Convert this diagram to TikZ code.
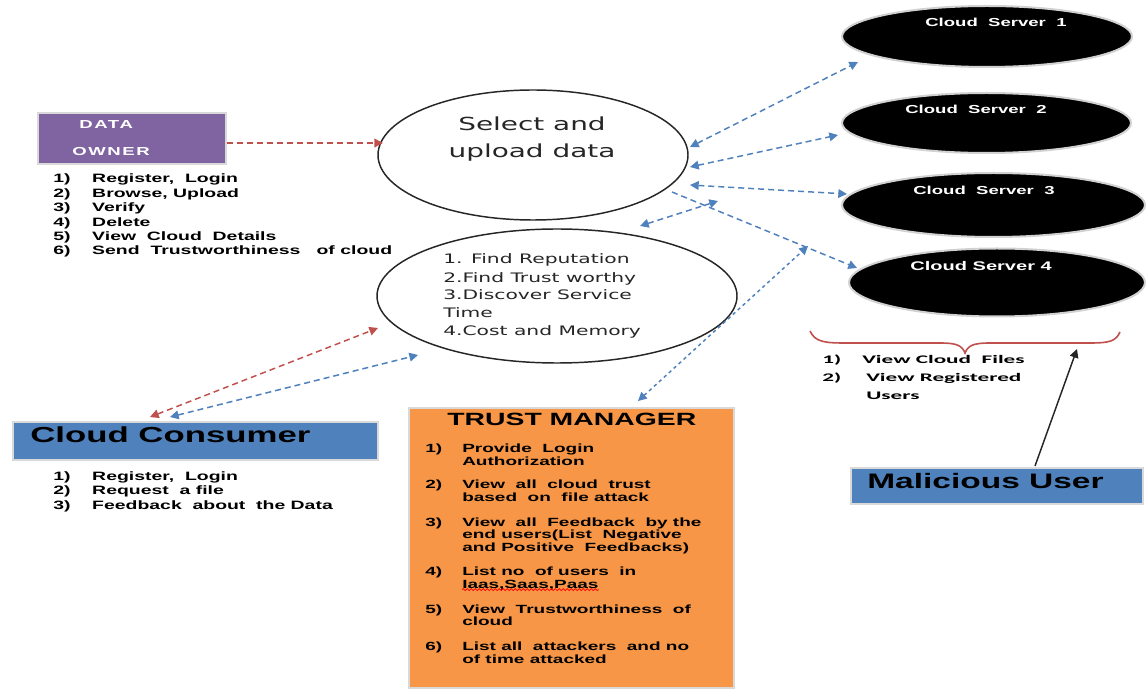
\documentclass[tikz,border=0pt]{standalone}
\usepackage{fontspec}
\setmainfont{Liberation Sans}
\newfontfamily\arb[FakeStretch=1.6]{Liberation Sans}
\newfontfamily\arbls[FakeStretch=1.6,LetterSpace=14]{Liberation Sans}
\newfontfamily\dvs[FakeStretch=1.55]{DejaVu Sans}
\newfontfamily\carl[FakeStretch=2.0]{Carlito}
\usetikzlibrary{arrows.meta,shapes.geometric,decorations.pathmorphing}
\definecolor{ownerc}{RGB}{128,100,162}
\definecolor{cblue}{RGB}{79,129,189}
\definecolor{corange}{RGB}{247,150,70}
\definecolor{cred}{RGB}{192,80,77}
\newcommand\itm[3]{\makebox[#1][l]{#2}#3}
\begin{document}
\begin{tikzpicture}[x=0.75pt,y=-0.75pt,
  >={Triangle[length=6.5pt,width=6.5pt]},
  box/.style={draw=black!15, line width=1.3pt, inner sep=0, anchor=north west},
  server/.style={ellipse, fill=black, draw=black!18, line width=1.5pt, inner sep=0},
  bigell/.style={ellipse, draw=black!85, line width=1.1pt, inner sep=0},
  lst/.style={anchor=base west, inner sep=0, font=\arb\bfseries\fontsize{9.1pt}{10pt}\selectfont},
  tml/.style={anchor=base west, inner sep=0, font=\arb\bfseries\fontsize{8.9pt}{10pt}\selectfont},
  srvtxt/.style={anchor=base west, inner sep=0, text=white, font=\arb\bfseries\fontsize{8.7pt}{10pt}\selectfont},
  ttl/.style={anchor=base west, inner sep=0, font=\arb\bfseries},
  e2txt/.style={anchor=base west, inner sep=0, text=black!85, font=\dvs\fontsize{9.8pt}{11pt}\selectfont},
  mal/.style={anchor=base west, inner sep=0, font=\carl\bfseries\fontsize{8.7pt}{10pt}\selectfont},
  bl/.style={draw=cblue, line width=1.1pt, dash pattern=on 4.5pt off 3pt},
  bldot/.style={draw=cblue, line width=1.1pt, dash pattern=on 2.5pt off 2.5pt},
  rd/.style={draw=cred, line width=1.1pt, dash pattern=on 4.5pt off 3pt}
]
\useasboundingbox (0,0) rectangle (1146,691);
\fill[white] (0,0) rectangle (1146,691);

% boxes
\node[box, fill=ownerc, minimum width=141pt, minimum height=38.25pt] (owner) at (37,112) {};
\node[box, fill=cblue, minimum width=273.75pt, minimum height=28.5pt] (consumer) at (12,421) {};
\node[box, fill=cblue, minimum width=219pt, minimum height=27pt] (malicious) at (850,467) {};
\node[box, fill=corange, minimum width=244pt, minimum height=210pt] (trust) at (408,407) {};

% ellipses
\node[bigell, minimum width=232.5pt, minimum height=97.5pt] (sel) at (533,155) {};
\node[bigell, minimum width=270pt, minimum height=100.5pt] (find) at (557,296) {};
\node[server, minimum width=217.5pt, minimum height=45.75pt] (s1) at (987,36.5) {};
\node[server, minimum width=216.75pt, minimum height=45pt] (s2) at (986.5,123) {};
\node[server, minimum width=227.25pt, minimum height=48pt] (s3) at (993.5,205) {};
\node[server, minimum width=222pt, minimum height=51pt] (s4) at (997,282.5) {};

% titles
\node[anchor=base west, inner sep=0, text=white, font=\arbls\bfseries\fontsize{8.7pt}{10pt}\selectfont] (dataT) at (79,128.3) {DATA};
\node[anchor=base west, inner sep=0, text=white, font=\arbls\bfseries\fontsize{8.7pt}{10pt}\selectfont] (ownerT) at (72,156) {OWNER};
\node[ttl, font=\arb\bfseries\fontsize{16.3pt}{18pt}\selectfont] (consT) at (30,442) {Cloud Consumer};
\node[ttl, font=\arb\bfseries\fontsize{15.7pt}{18pt}\selectfont] (malT) at (867,488.3) {Malicious User};
\node[ttl, font=\arb\bfseries\fontsize{13.3pt}{15pt}\selectfont] (trustT) at (447,426) {TRUST MANAGER};

% ellipse texts
\node[anchor=base, inner sep=0, text=black!85, font=\dvs\fontsize{13.5pt}{15pt}\selectfont] (selA) at (532,130.7) {Select and};
\node[anchor=base, inner sep=0, text=black!85, font=\dvs\fontsize{13.5pt}{15pt}\selectfont] (selB) at (532,157.3) {upload data};
\node[e2txt] (f1) at (443,263.3) {1. Find Reputation};
\node[e2txt] (f2) at (443,282.7) {2.Find Trust worthy};
\node[e2txt] (f3) at (443,300) {3.Discover Service};
\node[e2txt] (f3b) at (443,317.3) {Time};
\node[e2txt] (f4) at (443,335.7) {4.Cost and Memory};

% server labels
\node[srvtxt] (s1T) at (925,26.7) {Cloud\ \ Server\ \ 1};
\node[srvtxt] (s2T) at (905,113.3) {Cloud\ \ Server\ \ 2};
\node[srvtxt] (s3T) at (913,194.3) {Cloud\ \ Server\ \ 3};
\node[srvtxt, font=\arb\bfseries\fontsize{9.4pt}{10pt}\selectfont] (s4T) at (910,270.7) {Cloud Server 4};

% owner list
\node[lst] (o1) at (53,183) {\itm{29.25pt}{1)}{Register,\ \ Login}};
\node[lst] (o2) at (53,197.4) {\itm{29.25pt}{2)}{Browse, Upload}};
\node[lst] (o3) at (53,211.8) {\itm{29.25pt}{3)}{Verify}};
\node[lst] (o4) at (53,226.2) {\itm{29.25pt}{4)}{Delete}};
\node[lst] (o5) at (53,240.6) {\itm{29.25pt}{5)}{View\ \ Cloud\ \ Details}};
\node[lst] (o6) at (53,255) {\itm{29.25pt}{6)}{Send\ \ Trustworthiness\ \ \ of cloud}};

% consumer list
\node[lst] (c1) at (53,480) {\itm{29.25pt}{1)}{Register,\ \ Login}};
\node[lst] (c2) at (53,494.5) {\itm{29.25pt}{2)}{Request\ \ a file}};
\node[lst] (c3) at (53,509) {\itm{29.25pt}{3)}{Feedback\ \ about\ \ the Data}};

% trust manager list
\node[tml] (t1) at (425,452.7) {\itm{27.75pt}{1)}{Provide\ \ Login}};
\node[tml] (t1b) at (462,465) {Authorization};
\node[tml] (t2) at (425,488.7) {\itm{27.75pt}{2)}{View\ \ all\ \ cloud\ \ trust}};
\node[tml] (t2b) at (462,501.7) {based\ \ on\ \ file attack};
\node[tml] (t3) at (425,526) {\itm{27.75pt}{3)}{View\ \ all\ \ Feedback\ \ by the}};
\node[tml] (t3b) at (462,538.3) {end users(List\ \ Negative};
\node[tml] (t3c) at (462,551.7) {and Positive\ \ Feedbacks)};
\node[tml] (t4) at (425,575) {\itm{27.75pt}{4)}{List no\ \ of users\ \ in}};
\node[tml] (t4b) at (462,588) {Iaas,Saas,Paas};
\node[tml] (t5) at (425,613.3) {\itm{27.75pt}{5)}{View\ \ Trustworthiness\ \ of}};
\node[tml] (t5b) at (462,625.5) {cloud};
\node[tml] (t6) at (425,650.7) {\itm{27.75pt}{6)}{List all\ \ attackers\ \ and no}};
\node[tml] (t6b) at (462,663.3) {of time attacked};
\draw[red, line width=0.6pt, decorate, decoration={snake, amplitude=0.7pt, segment length=3pt}]
  ([yshift=-1.2pt]t4b.base west) -- ([yshift=-1.2pt]t4b.base east);

% malicious list
\node[mal] (m1) at (822,364) {\itm{30pt}{1)}{View Cloud\ \ Files}};
\node[mal] (m2) at (822,381.7) {\itm{33pt}{2)}{View Registered}};
\node[mal] (m2b) at (866,400) {Users};

% brace
\coordinate (brL) at (810,331);
\coordinate (brM) at (965,353);
\coordinate (brR) at (1120,332);
\draw[cred, line width=1.2pt] (brL) .. controls (815,342) and (825,343) .. (845,343)
  -- (940,343) .. controls (958,343) and (962,346) .. (brM)
  .. controls (968,346) and (972,343) .. (990,343)
  -- (1090,343) .. controls (1110,343) and (1116,341) .. (brR);

% connector end points
\coordinate (a1s) at (690,147); \coordinate (a1e) at (858,62);
\coordinate (a2s) at (690,167); \coordinate (a2e) at (838,135);
\coordinate (a3s) at (690,185); \coordinate (a3e) at (847,194);
\coordinate (a4s) at (672,192); \coordinate (a4e) at (857,268);
\coordinate (a5s) at (640,226); \coordinate (a5e) at (718,201);
\coordinate (a6s) at (638,401); \coordinate (a6e) at (808,246);
\coordinate (a7s) at (170,417); \coordinate (a7e) at (418,355);
\coordinate (r1s) at (227,143); \coordinate (r1e) at (383,143);
\coordinate (r2s) at (150,417); \coordinate (r2e) at (378,328);
\coordinate (k1s) at (1035,466); \coordinate (k1e) at (1077,349);

% blue connectors
\draw[bl,<->] (a1s) -- (a1e);
\draw[bl,<->] (a2s) -- (a2e);
\draw[bl,<->] (a3s) -- (a3e);
\draw[bl,->] (a4s) -- (a4e);
\draw[bl,<->] (a5s) -- (a5e);
\draw[bldot,<->] (a6s) -- (a6e);
\draw[bl,<->] (a7s) -- (a7e);
% red connectors
\draw[rd,->] (r1s) -- (r1e);
\draw[rd,<->] (r2s) -- (r2e);
% black arrow
\draw[black!85, line width=1.1pt, ->] (k1s) -- (k1e);
\end{tikzpicture}
\end{document}
